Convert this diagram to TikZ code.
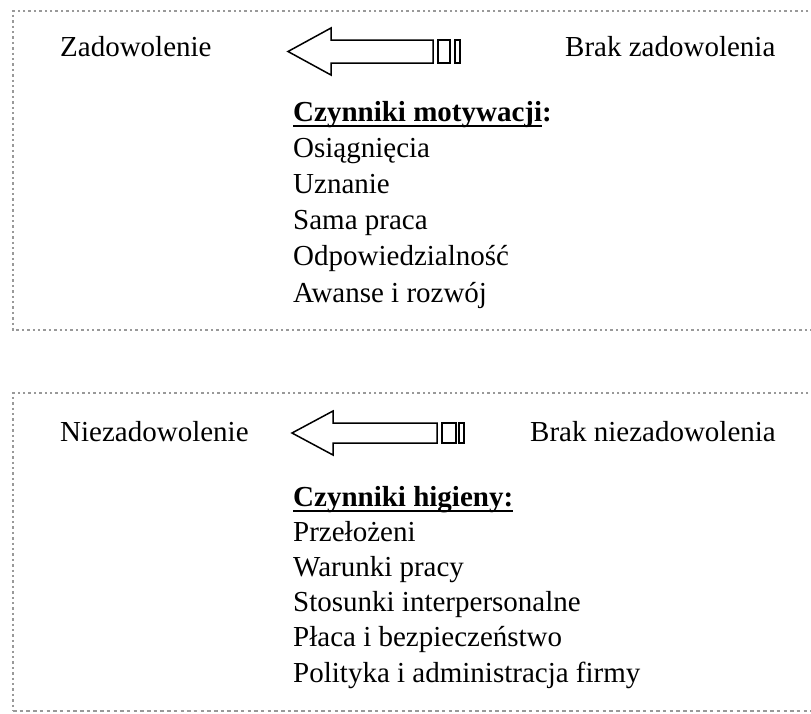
\documentclass[tikz,border=0pt]{standalone}
\usepackage{fontspec}
\setmainfont{Liberation Serif}
% underline drawn at a fixed depth below the baseline
\newcommand\myul[1]{\setbox0\hbox{#1}\rlap{\rule[-6pt]{\wd0}{1.8pt}}\box0}
\begin{document}
\begin{tikzpicture}[x=1pt,y=-1pt,
  lbl/.style={anchor=base west, inner sep=0pt, font=\fontsize{29}{34}\selectfont},
  head/.style={lbl, font=\fontsize{29}{34}\selectfont\bfseries},
  frame/.style={draw=black!40, line width=2.4pt, dash pattern=on 2.4pt off 3pt},
  framedash/.style={draw=black!40, line width=1.3pt, dash pattern=on 3.5pt off 3.2pt},
  arrowline/.style={draw=black, line width=1.5pt, line join=miter}]
\useasboundingbox (0,0) rectangle (811,713);
\clip (0,0) rectangle (811,713);

% frames (open to the right)
\draw[frame] (830,11) -- (13,11) -- (13,330) -- (830,330);
\draw[frame] (830,393) -- (13,393) -- (13,711);
\draw[framedash] (13,711) -- (830,711);

% --- motivation factors ---
\node[lbl] (zad) at (60,56) {Zadowolenie};
\node[lbl] (brakzad) at (565,56) {Brak zadowolenia};
\draw[arrowline] (288,51.5) -- (331,28) -- (331,40) -- (433,40) -- (433,63)
  -- (331,63) -- (331,75) -- cycle;
\draw[arrowline] (438,40) rectangle (450,63);
\draw[arrowline] (455,40) rectangle (460,63);

\node[head] (mot) at (293,121) {\myul{Czynniki motywacji}:};
\node[lbl] (m1) at (293,157.2) {Osiągnięcia};
\node[lbl] (m2) at (293,193.4) {Uznanie};
\node[lbl] (m3) at (293,229.6) {Sama praca};
\node[lbl] (m4) at (293,265.8) {Odpowiedzialność};
\node[lbl] (m5) at (293,302) {Awanse i rozwój};

% --- hygiene factors ---
\node[lbl] (niezad) at (60,441) {Niezadowolenie};
\node[lbl] (brakniezad) at (530,441) {Brak niezadowolenia};
\draw[arrowline] (292,433) -- (333,411) -- (333,423) -- (437,423) -- (437,443)
  -- (333,443) -- (333,455) -- cycle;
\draw[arrowline] (442,423) rectangle (456,443);
\draw[arrowline] (459,423) rectangle (464,443);

\node[head] (hig) at (293,506) {\myul{Czynniki higieny:}};
\node[lbl] (h1) at (293,541.2) {Przełożeni};
\node[lbl] (h2) at (293,576.4) {Warunki pracy};
\node[lbl] (h3) at (293,611.6) {Stosunki interpersonalne};
\node[lbl] (h4) at (293,646.8) {Płaca i bezpieczeństwo};
\node[lbl] (h5) at (293,682) {Polityka i administracja firmy};
\end{tikzpicture}
\end{document}
